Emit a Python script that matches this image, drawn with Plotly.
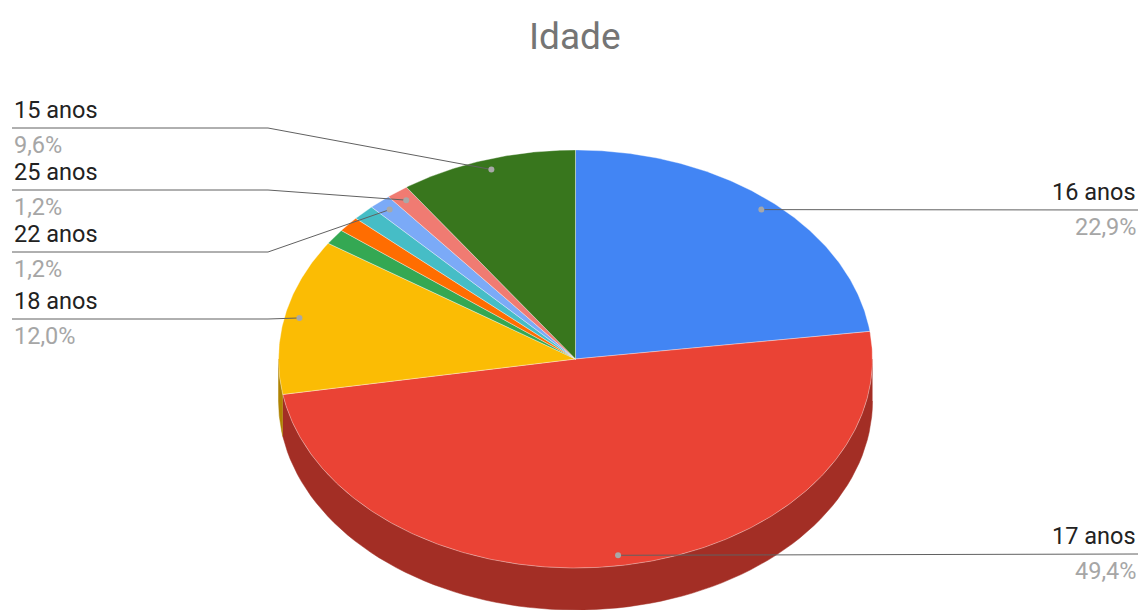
import numpy as np
import plotly.graph_objects as go

# Age distribution of respondents
ages = ["16 anos", "17 anos", "18 anos", "19 anos", "20 anos",
        "21 anos", "22 anos", "25 anos", "15 anos"]
counts = [19, 41, 10, 1, 1, 1, 1, 1, 8]
colors = ["#4285F4", "#EA4335", "#FBBC04", "#34A853", "#FF6D01",
          "#46BDC6", "#7BAAF7", "#F07B72", "#38761D"]

# Which slices get an outside label: side and the y of its underline
label_spec = {
    "16 anos": ("right", 210),
    "17 anos": ("right", 554),
    "15 anos": ("left", 128),
    "25 anos": ("left", 190),
    "22 anos": ("left", 252),
    "18 anos": ("left", 319),
}

W, H = 1144, 610
CX, CY = 575.5, 359.0      # centre of the top face
RX, RY = 297.0, 209.0      # radii of the top face ellipse
DEPTH = 42.0               # thickness of the disc
LEFT_X, LEFT_ELBOW = 12, 268
RIGHT_X = 1138


def pt(theta_deg, r=1.0, dy=0.0):
    t = np.radians(theta_deg)
    return CX + RX * r * np.sin(t), CY - RY * r * np.cos(t) + dy


def darken(hexcol, f=0.7):
    h = hexcol.lstrip("#")
    r, g, b = (int(h[i:i + 2], 16) for i in (0, 2, 4))
    return "rgb({},{},{})".format(int(r * f), int(g * f), int(b * f))


total = sum(counts)
shares = [c / total for c in counts]
starts = np.concatenate([[0], np.cumsum(shares)[:-1]]) * 360
ends = np.cumsum(shares) * 360

fig = go.Figure()

# Visible rim of the disc (front half, 90..270 degrees)
for name, a, b, col in zip(ages, starts, ends, colors):
    lo, hi = max(a, 90), min(b, 270)
    if hi <= lo:
        continue
    th = np.linspace(lo, hi, 80)
    xt, yt = pt(th)
    xb, yb = pt(th[::-1], dy=DEPTH)
    fig.add_trace(go.Scatter(
        x=np.concatenate([xt, xb]), y=np.concatenate([yt, yb]),
        fill="toself", fillcolor=darken(col), mode="lines",
        line=dict(color=darken(col), width=0.5),
        hoverinfo="skip", showlegend=False))

# Top face slices
for name, a, b, col, c, s in zip(ages, starts, ends, colors, counts, shares):
    th = np.linspace(a, b, max(4, int((b - a) * 2)))
    xs, ys = pt(th)
    fig.add_trace(go.Scatter(
        x=np.concatenate([[CX], xs, [CX]]), y=np.concatenate([[CY], ys, [CY]]),
        fill="toself", fillcolor=col, mode="lines",
        line=dict(color="rgba(255,255,255,0.45)", width=0.8),
        name=name, hoveron="fills",
        text=f"{name}: {c} ({s * 100:.1f}%)".replace(".", ","),
        hoverinfo="text", showlegend=False))

# Leader lines, anchor dots and labels
annotations = []
for name, a, b, s in zip(ages, starts, ends, shares):
    if name not in label_spec:
        continue
    side, ly = label_spec[name]
    dx, dy = pt((a + b) / 2, r=0.95)
    if side == "left":
        lx = [LEFT_X, LEFT_ELBOW, dx]
        lyy = [ly, ly, dy]
        tx, anchor = LEFT_X, "left"
    else:
        lx = [dx, RIGHT_X]
        lyy = [dy, ly]
        tx, anchor = RIGHT_X, "right"
    fig.add_trace(go.Scatter(x=lx, y=lyy, mode="lines",
                             line=dict(color="#616161", width=1),
                             hoverinfo="skip", showlegend=False))
    fig.add_trace(go.Scatter(x=[dx], y=[dy], mode="markers",
                             marker=dict(size=6, color="#a8a8a8"),
                             hoverinfo="skip", showlegend=False))
    pct = f"{s * 100:.1f}".replace(".", ",") + "%"
    annotations.append(dict(x=tx, y=ly - 18, text=name, showarrow=False,
                            xanchor=anchor, yanchor="middle",
                            font=dict(size=23.5, color="#222222")))
    annotations.append(dict(x=tx, y=ly + 17, text=pct, showarrow=False,
                            xanchor=anchor, yanchor="middle",
                            font=dict(size=23.5, color="#a6a6a6")))

annotations.append(dict(x=575, y=36, text="Idade", showarrow=False,
                        xanchor="center", yanchor="middle",
                        font=dict(size=37, color="#757575")))

fig.update_layout(
    width=W, height=H,
    margin=dict(l=0, r=0, t=0, b=0, pad=0),
    paper_bgcolor="white", plot_bgcolor="white",
    font=dict(family="Roboto, Arial, sans-serif"),
    xaxis=dict(range=[0, W], visible=False, fixedrange=True),
    yaxis=dict(range=[H, 0], visible=False, fixedrange=True),
    annotations=annotations,
    hovermode="closest",
)

fig.write_html("out.html")
